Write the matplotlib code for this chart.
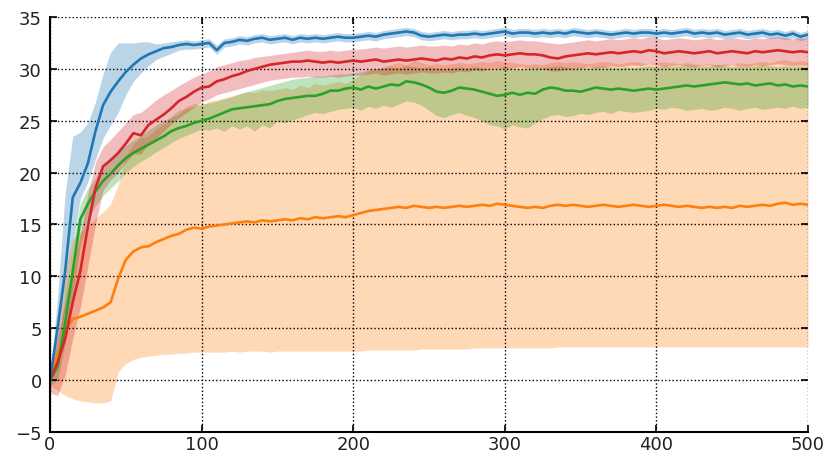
import numpy as np
import matplotlib
matplotlib.use("Agg")
import matplotlib.pyplot as plt

# episodes sampled every 5
x = np.arange(0, 501, 5)

blue_mean = [0.0, 5.0, 10.5, 17.6, 19.0, 20.9, 24.0, 26.5, 27.8, 28.8,
             29.7, 30.4, 31.0, 31.4, 31.7, 32.0, 32.1, 32.3, 32.4, 32.3,
             32.4, 32.5, 31.8, 32.5, 32.6, 32.8, 32.7, 32.9, 33.0, 32.8,
             32.9, 33.0, 32.8, 33.0, 32.9, 33.0, 32.9, 33.0, 33.1, 33.0,
             33.0, 33.1, 33.2, 33.1, 33.3, 33.4, 33.5, 33.6, 33.5, 33.2,
             33.1, 33.2, 33.3, 33.2, 33.3, 33.3, 33.4, 33.3, 33.4, 33.5,
             33.6, 33.4, 33.5, 33.5, 33.4, 33.5, 33.4, 33.5, 33.4, 33.6,
             33.5, 33.4, 33.5, 33.4, 33.3, 33.4, 33.5, 33.4, 33.5, 33.5,
             33.4, 33.5, 33.4, 33.5, 33.6, 33.4, 33.5, 33.4, 33.5, 33.3,
             33.4, 33.5, 33.3, 33.4, 33.5, 33.3, 33.4, 33.2, 33.4, 33.1,
             33.3]
blue_lo = [-0.3, 3.0, 7.0, 13.0, 17.5, 19.1, 21.3, 23.3, 24.6, 25.8,
           27.5, 28.8, 29.6, 30.3, 30.9, 31.2, 31.5, 31.8, 31.9, 31.9,
           32.0, 32.1, 31.4, 32.1, 32.2, 32.4, 32.3, 32.5, 32.6, 32.4,
           32.5, 32.6, 32.4, 32.6, 32.5, 32.6, 32.5, 32.6, 32.7, 32.6,
           32.6, 32.7, 32.8, 32.7, 32.9, 33.0, 33.1, 33.2, 33.1, 32.8,
           32.7, 32.8, 32.9, 32.8, 32.9, 32.9, 33.0, 32.9, 33.0, 33.1,
           33.2, 33.0, 33.1, 33.1, 33.0, 33.1, 33.0, 33.1, 33.0, 33.2,
           33.1, 33.0, 33.1, 33.0, 32.9, 33.0, 33.1, 33.0, 33.1, 33.1,
           33.0, 33.1, 33.0, 33.1, 33.2, 33.0, 33.1, 33.0, 33.1, 32.9,
           33.0, 33.1, 32.9, 33.0, 33.1, 32.9, 33.0, 32.8, 33.0, 32.7,
           32.9]
blue_hi = [0.3, 8.0, 18.0, 23.5, 23.9, 24.8, 26.8, 29.5, 31.6, 32.5,
           32.5, 32.5, 32.6, 32.6, 32.4, 32.5, 32.6, 32.7, 32.8, 32.7,
           32.8, 32.9, 32.3, 32.9, 33.0, 33.2, 33.1, 33.3, 33.4, 33.2,
           33.3, 33.4, 33.2, 33.4, 33.3, 33.4, 33.3, 33.4, 33.5, 33.4,
           33.4, 33.5, 33.6, 33.5, 33.7, 33.8, 33.9, 34.0, 33.9, 33.6,
           33.5, 33.6, 33.7, 33.6, 33.7, 33.7, 33.8, 33.7, 33.8, 33.9,
           34.0, 33.8, 33.9, 33.9, 33.8, 33.9, 33.8, 33.9, 33.8, 34.0,
           33.9, 33.8, 33.9, 33.8, 33.7, 33.8, 33.9, 33.8, 33.9, 33.9,
           33.8, 33.9, 33.8, 33.9, 34.0, 33.8, 33.9, 33.8, 33.9, 33.7,
           33.8, 33.9, 33.7, 33.8, 33.9, 33.7, 33.8, 33.6, 33.8, 33.5,
           33.7]

orange_mean = [0.0, 2.5, 4.6, 5.9, 6.1, 6.4, 6.7, 7.0, 7.5, 9.8,
               11.6, 12.4, 12.8, 12.9, 13.3, 13.6, 13.9, 14.1, 14.5, 14.7,
               14.6, 14.8, 14.9, 15.0, 15.1, 15.2, 15.3, 15.2, 15.4, 15.3,
               15.4, 15.5, 15.4, 15.6, 15.5, 15.7, 15.6, 15.7, 15.8, 15.7,
               15.9, 16.1, 16.3, 16.4, 16.5, 16.6, 16.7, 16.6, 16.8, 16.7,
               16.6, 16.7, 16.6, 16.7, 16.8, 16.7, 16.8, 16.9, 16.8, 17.0,
               16.9, 16.8, 16.7, 16.6, 16.7, 16.6, 16.8, 16.9, 16.8, 16.9,
               16.8, 16.7, 16.8, 16.9, 16.8, 16.7, 16.8, 16.9, 16.8, 16.7,
               16.8, 16.9, 16.8, 16.7, 16.8, 16.7, 16.6, 16.7, 16.6, 16.7,
               16.6, 16.8, 16.7, 16.8, 16.9, 16.8, 17.0, 17.1, 16.9, 17.0,
               16.9]
orange_lo = [-0.5, -1.0, -1.5, -1.8, -2.0, -2.1, -2.2, -2.2, -2.0, 0.8,
             1.6, 2.0, 2.2, 2.3, 2.4, 2.5, 2.5, 2.6, 2.6, 2.7,
             2.7, 2.7, 2.7, 2.7, 2.8, 2.7, 2.8, 2.8, 2.8, 2.7,
             2.8, 2.8, 2.8, 2.8, 2.8, 2.8, 2.8, 2.8, 2.8, 2.8,
             2.8, 2.8, 2.9, 2.9, 2.9, 2.9, 2.9, 2.9, 2.9, 3.0,
             3.0, 3.0, 3.0, 3.0, 3.0, 3.0, 3.1, 3.1, 3.1, 3.1,
             3.1, 3.1, 3.1, 3.1, 3.1, 3.1, 3.1, 3.2, 3.2, 3.2,
             3.2, 3.2, 3.2, 3.2, 3.2, 3.2, 3.2, 3.2, 3.2, 3.2,
             3.2, 3.2, 3.2, 3.2, 3.2, 3.2, 3.2, 3.2, 3.2, 3.2,
             3.2, 3.2, 3.2, 3.2, 3.2, 3.2, 3.2, 3.2, 3.2, 3.2,
             3.2]
orange_hi = [0.5, 6.0, 10.7, 13.6, 14.2, 14.9, 15.6, 16.2, 17.0, 18.8,
             21.6, 22.8, 23.4, 23.5, 24.2, 24.7, 25.3, 25.6, 26.4, 26.7,
             26.5, 26.9, 27.0, 27.2, 27.4, 27.6, 27.8, 27.7, 28.0, 27.9,
             28.0, 28.2, 28.0, 28.4, 28.2, 28.6, 28.4, 28.6, 28.8, 28.6,
             29.0, 29.4, 29.8, 30.0, 30.2, 30.4, 30.6, 30.4, 30.8, 30.6,
             30.4, 30.5, 30.4, 30.5, 30.6, 30.5, 30.6, 30.7, 30.6, 30.8,
             30.7, 30.6, 30.5, 30.4, 30.5, 30.4, 30.6, 30.7, 30.6, 30.7,
             30.6, 30.5, 30.6, 30.7, 30.6, 30.5, 30.6, 30.7, 30.6, 30.5,
             30.6, 30.7, 30.6, 30.5, 30.6, 30.5, 30.4, 30.5, 30.4, 30.5,
             30.4, 30.6, 30.5, 30.6, 30.7, 30.6, 30.8, 30.9, 30.7, 30.8,
             30.7]

green_mean = [0.0, 1.3, 5.5, 10.5, 15.5, 17.0, 18.2, 19.2, 19.9, 20.7,
              21.4, 21.9, 22.3, 22.7, 23.1, 23.5, 24.0, 24.3, 24.5, 24.8,
              25.0, 25.2, 25.5, 25.8, 26.1, 26.2, 26.3, 26.4, 26.5, 26.6,
              26.9, 27.1, 27.2, 27.3, 27.4, 27.4, 27.6, 27.9, 27.9, 28.1,
              28.2, 28.0, 28.3, 28.1, 28.3, 28.5, 28.4, 28.8, 28.7, 28.5,
              28.2, 27.8, 27.7, 27.9, 28.2, 28.1, 28.0, 27.8, 27.6, 27.4,
              27.5, 27.7, 27.5, 27.7, 27.6, 28.0, 28.2, 28.1, 27.9, 27.9,
              27.8, 28.0, 28.2, 28.1, 28.0, 28.1, 28.0, 27.9, 28.0, 28.1,
              28.0, 28.1, 28.2, 28.3, 28.4, 28.3, 28.4, 28.5, 28.6, 28.7,
              28.6, 28.5, 28.6, 28.4, 28.5, 28.6, 28.4, 28.5, 28.3, 28.4,
              28.3]
green_lo = [-0.5, 0.0, 3.5, 8.0, 13.0, 15.5, 16.8, 17.8, 18.5, 19.2,
            20.0, 20.6, 21.1, 21.5, 22.0, 22.4, 22.9, 23.3, 23.6, 23.9,
            24.2, 24.1, 24.3, 24.0, 24.5, 24.2, 24.5, 24.0, 24.6, 24.3,
            25.0, 24.8, 25.1, 25.3, 25.6, 25.8, 25.7, 25.9, 26.1, 26.2,
            26.3, 26.0, 26.4, 26.2, 26.5, 26.3, 26.6, 26.9, 26.8, 26.5,
            26.0, 25.5, 25.3, 25.6, 25.8, 25.5, 25.3, 25.0, 24.6, 24.5,
            24.2, 24.6, 24.4, 24.3, 24.8, 25.2, 25.5, 25.6, 25.4, 25.5,
            25.7, 25.6, 25.8, 25.9, 25.7, 26.0, 25.9, 25.8, 25.9, 26.0,
            26.2, 26.1, 26.3, 26.2, 26.0, 26.1, 26.2, 26.0, 26.1, 26.3,
            26.2, 26.0, 26.2, 26.3, 26.1, 26.2, 26.3, 26.2, 26.4, 26.2,
            26.3]
green_hi = [0.5, 3.0, 8.0, 13.0, 17.0, 18.5, 19.5, 20.5, 21.3, 22.0,
            22.6, 23.1, 23.6, 24.1, 24.6, 25.0, 25.4, 26.0, 26.2, 26.4,
            26.6, 26.7, 26.9, 27.1, 27.3, 27.6, 27.8, 28.0, 28.2, 28.4,
            28.6, 28.8, 29.0, 29.1, 29.2, 29.3, 29.3, 29.4, 29.5, 29.5,
            29.6, 29.7, 29.9, 30.0, 30.1, 30.2, 30.1, 30.3, 30.2, 30.1,
            30.2, 30.1, 30.0, 30.1, 30.2, 30.1, 30.2, 30.1, 30.0, 30.1,
            30.2, 30.1, 30.0, 30.1, 30.2, 30.1, 30.2, 30.3, 30.2, 30.1,
            30.2, 30.1, 30.2, 30.3, 30.2, 30.1, 30.2, 30.1, 30.2, 30.3,
            30.2, 30.3, 30.2, 30.3, 30.4, 30.3, 30.2, 30.3, 30.4, 30.3,
            30.2, 30.3, 30.2, 30.3, 30.4, 30.3, 30.2, 30.3, 30.2, 30.3,
            30.2]

red_mean = [0.0, 1.7, 4.0, 7.5, 10.5, 14.8, 18.5, 20.6, 21.2, 21.9,
            22.8, 23.8, 23.6, 24.6, 25.1, 25.6, 26.2, 26.9, 27.3, 27.8,
            28.2, 28.3, 28.8, 29.0, 29.3, 29.5, 29.8, 30.0, 30.2, 30.4,
            30.5, 30.6, 30.7, 30.7, 30.8, 30.7, 30.6, 30.7, 30.6, 30.7,
            30.8, 30.7, 30.8, 30.9, 30.7, 30.8, 30.9, 30.8, 30.9, 31.0,
            30.9, 30.8, 31.0, 30.9, 31.1, 31.0, 31.2, 31.1, 31.3, 31.4,
            31.3, 31.4, 31.5, 31.4, 31.4, 31.3, 31.1, 31.0, 31.2, 31.3,
            31.4, 31.5, 31.4, 31.5, 31.6, 31.5, 31.6, 31.7, 31.6, 31.8,
            31.7, 31.5, 31.6, 31.7, 31.6, 31.5, 31.6, 31.7, 31.5, 31.6,
            31.7, 31.6, 31.5, 31.7, 31.6, 31.7, 31.8, 31.7, 31.6, 31.7,
            31.6]
red_lo = [-1.2, -1.5, 0.5, 4.0, 7.0, 11.0, 15.0, 18.3, 19.3, 20.0,
          21.0, 21.8, 21.8, 22.8, 23.3, 24.0, 24.7, 25.3, 25.8, 26.3,
          26.8, 27.1, 27.5, 27.7, 27.9, 28.1, 28.3, 28.5, 28.7, 28.9,
          29.0, 29.1, 29.2, 29.2, 29.3, 29.2, 29.2, 29.3, 29.2, 29.3,
          29.4, 29.4, 29.5, 29.6, 29.4, 29.5, 29.6, 29.5, 29.6, 29.7,
          29.6, 29.6, 29.7, 29.6, 29.8, 29.7, 29.9, 29.8, 30.0, 30.1,
          30.0, 30.1, 30.2, 30.1, 30.1, 30.0, 29.8, 29.8, 29.9, 30.0,
          30.1, 30.2, 30.1, 30.2, 30.3, 30.2, 30.3, 30.4, 30.3, 30.5,
          30.4, 30.2, 30.3, 30.4, 30.3, 30.2, 30.3, 30.4, 30.2, 30.3,
          30.4, 30.3, 30.2, 30.4, 30.3, 30.4, 30.5, 30.4, 30.3, 30.4,
          30.3]
red_hi = [0.5, 4.0, 7.5, 11.0, 14.0, 18.0, 21.0, 22.5, 23.2, 24.0,
          24.8, 25.6, 25.8, 26.4, 27.0, 27.5, 27.9, 28.4, 28.8, 29.2,
          29.5, 29.8, 30.2, 30.4, 30.6, 30.8, 30.9, 31.1, 31.2, 31.3,
          31.4, 31.5, 31.6, 31.7, 31.8, 31.7, 31.7, 31.8, 31.7, 31.8,
          31.9, 31.9, 32.0, 32.1, 32.0, 32.1, 32.2, 32.1, 32.2, 32.3,
          32.2, 32.2, 32.3, 32.2, 32.4, 32.3, 32.5, 32.4, 32.6, 32.7,
          32.6, 32.7, 32.8, 32.7, 32.7, 32.6, 32.5, 32.4, 32.5, 32.6,
          32.7, 32.8, 32.7, 32.8, 32.9, 32.8, 32.9, 33.0, 32.9, 33.1,
          33.0, 32.8, 32.9, 33.0, 32.9, 32.8, 32.9, 33.0, 32.8, 32.9,
          33.0, 32.9, 32.8, 33.0, 32.9, 33.0, 33.1, 33.0, 32.9, 33.0,
          32.9]

series = [
    (blue_mean, blue_lo, blue_hi, "#1f77b4"),
    (orange_mean, orange_lo, orange_hi, "#ff7f0e"),
    (green_mean, green_lo, green_hi, "#2ca02c"),
    (red_mean, red_lo, red_hi, "#d62728"),
]

fig = plt.figure(figsize=(8.29, 4.60), dpi=100)
ax = fig.add_axes([0.0603, 0.0587, 0.9144, 0.9022])

for mean, lo, hi, c in series:
    ax.fill_between(x, lo, hi, color=c, alpha=0.3, linewidth=0)
for mean, lo, hi, c in [series[1], series[2], series[3], series[0]]:
    ax.plot(x, mean, color=c, linewidth=1.9)

ax.set_xlim(0, 500)
ax.set_ylim(-5, 35)
ax.set_xticks([0, 100, 200, 300, 400, 500])
ax.set_yticks([-5, 0, 5, 10, 15, 20, 25, 30, 35])
ax.grid(True, color="black", linestyle=":", linewidth=1.0)
for s in ["top", "right"]:
    ax.spines[s].set_visible(False)
for s in ["left", "bottom"]:
    ax.spines[s].set_linewidth(1.5)
    ax.spines[s].set_color("black")
ax.tick_params(direction="in", length=5, width=1.2, top=True, right=True,
               labelsize=13, labelcolor="#222222")
ax.tick_params(axis="x", pad=2)
ax.tick_params(axis="y", pad=6)

fig.savefig("out.png", dpi=100)
